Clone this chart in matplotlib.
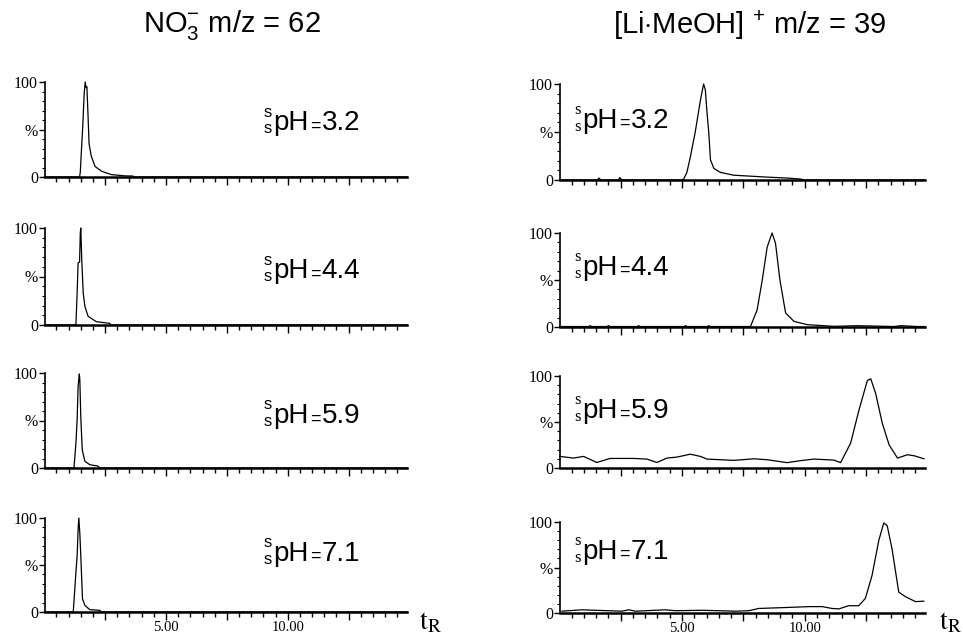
import matplotlib
matplotlib.use("Agg")
import matplotlib.pyplot as plt
from matplotlib.ticker import MultipleLocator, FuncFormatter
from matplotlib.transforms import offset_copy

plt.rcParams['mathtext.fontset'] = 'custom'
plt.rcParams['mathtext.rm'] = 'Liberation Sans'

# pH values of the four runs (top to bottom)
ph_labels = ['3.2', '4.4', '5.9', '7.1']

# NO3- m/z = 62 traces (retention time in min, intensity in %)
no3_t_32 = [0.0, 1.45, 1.48, 1.52, 1.58, 1.64, 1.68, 1.72, 1.75, 1.79, 1.84, 1.93, 2.09, 2.36, 2.76, 3.31, 3.64, 3.70, 14.9]
no3_y_32 = [0, 0, 5, 25, 53, 88, 100, 94, 95, 70, 35, 22, 11, 6, 2.5, 1.2, 1, 0, 0]

no3_t_44 = [0.0, 1.30, 1.35, 1.39, 1.45, 1.48, 1.50, 1.54, 1.60, 1.67, 1.80, 2.14, 2.69, 2.75, 14.9]
no3_y_44 = [0, 0, 33, 64, 65, 95, 100, 67, 33, 19, 9, 3.4, 1.7, 0, 0]

no3_t_59 = [0.0, 1.22, 1.30, 1.35, 1.39, 1.44, 1.46, 1.50, 1.56, 1.67, 1.87, 2.21, 2.28, 14.9]
no3_y_59 = [0, 0, 26, 51, 86, 99, 93, 54, 19, 7, 3.5, 2, 0, 0]

no3_t_71 = [0.0, 1.19, 1.30, 1.35, 1.39, 1.42, 1.46, 1.50, 1.57, 1.67, 1.87, 2.28, 2.35, 14.9]
no3_y_71 = [0, 0, 42, 60, 88, 100, 84, 60, 14, 7, 2.5, 1.8, 0, 0]

# [Li.MeOH]+ m/z = 39 traces
li_t_32 = [0.05, 1.55, 1.62, 1.70, 2.40, 2.47, 2.55, 5.00, 5.07, 5.20, 5.34, 5.54, 5.75, 5.88, 5.95, 6.02,
           6.09, 6.16, 6.30, 6.56, 7.10, 8.47, 9.30, 9.83, 10.0, 14.9]
li_y_32 = [0, 0, 2, 0, 0, 2.5, 0, 0, 1, 8, 24, 50, 83, 100, 94, 70,
           50, 21, 12, 8, 5, 3, 2, 1, 0, 0]

li_t_44 = [0.05, 1.20, 1.26, 1.32, 1.95, 2.00, 2.06, 3.18, 3.23, 3.28, 5.10, 5.14, 5.20, 6.04, 6.09, 6.14,
           7.79, 8.06, 8.27, 8.47, 8.67, 8.81, 8.99, 9.22, 9.56, 10.1, 11.19, 12.14, 13.64, 13.91, 14.59, 14.9]
li_y_44 = [0.5, 0.5, 1.5, 0.5, 0.5, 1.5, 0.5, 0.5, 1.5, 0.5, 0.5, 1.5, 0.5, 0.5, 1.5, 0.5,
           0.5, 18, 50, 85, 100, 89, 50, 15, 6, 2.5, 0.7, 1.4, 0.5, 1.4, 0.5, 0.5]

li_t_59 = [0.03, 0.58, 0.99, 1.53, 2.07, 3.03, 3.57, 3.98, 4.39, 4.80, 5.34, 5.75, 6.02, 7.11, 7.93,
           8.47, 9.29, 9.83, 10.37, 11.19, 11.46, 11.87, 12.21, 12.55, 12.69, 12.89, 13.16, 13.44,
           13.78, 14.18, 14.46, 14.86]
li_y_59 = [12.6, 10.8, 12.6, 6, 10.4, 10.4, 9.7, 6, 10.8, 11.9, 15, 12.6, 9.7, 8.3, 10,
           9, 5.8, 8, 9.7, 8.6, 5.8, 27, 63, 95, 97, 81, 48.6, 25,
           10.8, 14.4, 13.3, 10]

li_t_71 = [0.11, 0.92, 2.55, 2.83, 3.10, 4.32, 4.73, 5.82, 7.17, 7.72, 8.13, 9.21, 10.16, 10.71, 11.11,
           11.39, 11.79, 12.20, 12.47, 12.74, 13.02, 13.22, 13.36, 13.56, 13.83, 14.10, 14.51, 14.85]
li_y_71 = [2, 3.5, 2, 3.5, 2, 3.5, 2.5, 3, 2, 2.5, 5, 6, 7, 7, 5,
           4.5, 8, 8, 16, 41, 80, 99, 96, 70, 23, 18, 12.5, 13]

no3_traces = [(no3_t_32, no3_y_32), (no3_t_44, no3_y_44), (no3_t_59, no3_y_59), (no3_t_71, no3_y_71)]
li_traces = [(li_t_32, li_y_32), (li_t_44, li_y_44), (li_t_59, li_y_59), (li_t_71, li_y_71)]

W, H = 963, 640
fig = plt.figure(figsize=(W / 100, H / 100), dpi=100)

# panel boxes in pixels: (left, right, top, bottom)
left_cols = [(45, 407, 82, 177), (45, 407, 228, 325), (45, 407, 373, 468), (45, 407, 518, 612)]
right_cols = [(560, 925, 84, 180), (560, 925, 233, 327), (560, 925, 376, 468), (560, 925, 522, 613)]
left_label_y = [0.49, 0.48, 0.47, 0.54]
right_label_y = [0.54, 0.55, 0.54, 0.59]

serif = ['Liberation Serif', 'DejaVu Serif']
sans = ['Liberation Sans', 'DejaVu Sans']


def xfmt(v, pos):
    if abs(v - 5) < 1e-6:
        return '5.00'
    if abs(v - 10) < 1e-6:
        return '10.00'
    return ''


def panel(box, trace, ph, lab_x, lab_y, bottom, s_family):
    l, r, t, b = box
    ax = fig.add_axes([l / W, 1 - b / H, (r - l) / W, (b - t) / H])
    ax.plot(trace[0], trace[1], color='black', lw=0.9, clip_on=False)
    ax.set_xlim(0.03, 14.9)
    ax.set_ylim(0, 100)
    for s in ['top', 'right']:
        ax.spines[s].set_visible(False)
    ax.spines['bottom'].set_linewidth(1.8)
    ax.spines['left'].set_linewidth(1.2)
    ax.xaxis.set_major_locator(MultipleLocator(2.5))
    ax.xaxis.set_minor_locator(MultipleLocator(0.5))
    ax.xaxis.set_major_formatter(FuncFormatter(xfmt) if bottom else FuncFormatter(lambda v, p: ''))
    ax.set_yticks([0, 50, 100])
    ax.set_yticklabels(['0', '%', '100'])
    ax.yaxis.set_minor_locator(MultipleLocator(10))
    ax.tick_params(axis='x', which='major', length=6, width=1, direction='out', pad=0.5)
    ax.tick_params(axis='x', which='minor', length=3.5, width=1, direction='out')
    ax.tick_params(axis='y', which='major', length=4, width=1, pad=1)
    ax.tick_params(axis='y', which='minor', length=2.5, width=0.8)
    for tl in ax.get_yticklabels():
        tl.set_fontfamily(serif)
        tl.set_fontsize(11.5)
    for tl in ax.get_xticklabels():
        tl.set_fontfamily(serif)
        tl.set_fontsize(10.5)
    # pH label with pre-scripts
    ax.text(lab_x, lab_y, 'pH', transform=ax.transAxes, fontsize=20, family=sans, ha='left', va='baseline')
    tr = offset_copy(ax.transAxes, fig=fig, x=26.5, y=0, units='points')
    ax.text(lab_x, lab_y, '=', transform=tr, fontsize=13, family=sans, ha='left', va='baseline')
    tr2 = offset_copy(ax.transAxes, fig=fig, x=35, y=0, units='points')
    ax.text(lab_x, lab_y, ph, transform=tr2, fontsize=20, family=sans, ha='left', va='baseline')
    trs = offset_copy(ax.transAxes, fig=fig, x=-1, y=10, units='points')
    ax.text(lab_x, lab_y, 's', transform=trs, fontsize=12, family=s_family, ha='right', va='baseline')
    trs2 = offset_copy(ax.transAxes, fig=fig, x=-1, y=-2, units='points')
    ax.text(lab_x, lab_y, 's', transform=trs2, fontsize=12, family=s_family, ha='right', va='baseline')
    return ax


for i in range(4):
    panel(left_cols[i], no3_traces[i], ph_labels[i], 0.63, left_label_y[i], i == 3, sans)
    panel(right_cols[i], li_traces[i], ph_labels[i], 0.06, right_label_y[i], i == 3, serif)

fig.text(232 / W, 1 - 25 / H, r'NO$_3^{-}$ m/z = 62', ha='center', va='center', fontsize=21, family=sans)
fig.text(750 / W, 1 - 25 / H, r'[Li$\cdot$MeOH] $^{+}$ m/z = 39', ha='center', va='center', fontsize=21, family=sans)

fig.text(430 / W, 1 - 621 / H, r'$\mathrm{t}_\mathrm{R}$', ha='center', va='center', fontsize=20, math_fontfamily='stix')
fig.text(950 / W, 1 - 621 / H, r'$\mathrm{t}_\mathrm{R}$', ha='center', va='center', fontsize=20, math_fontfamily='stix')

fig.savefig('out.png', dpi=100, facecolor='white')
